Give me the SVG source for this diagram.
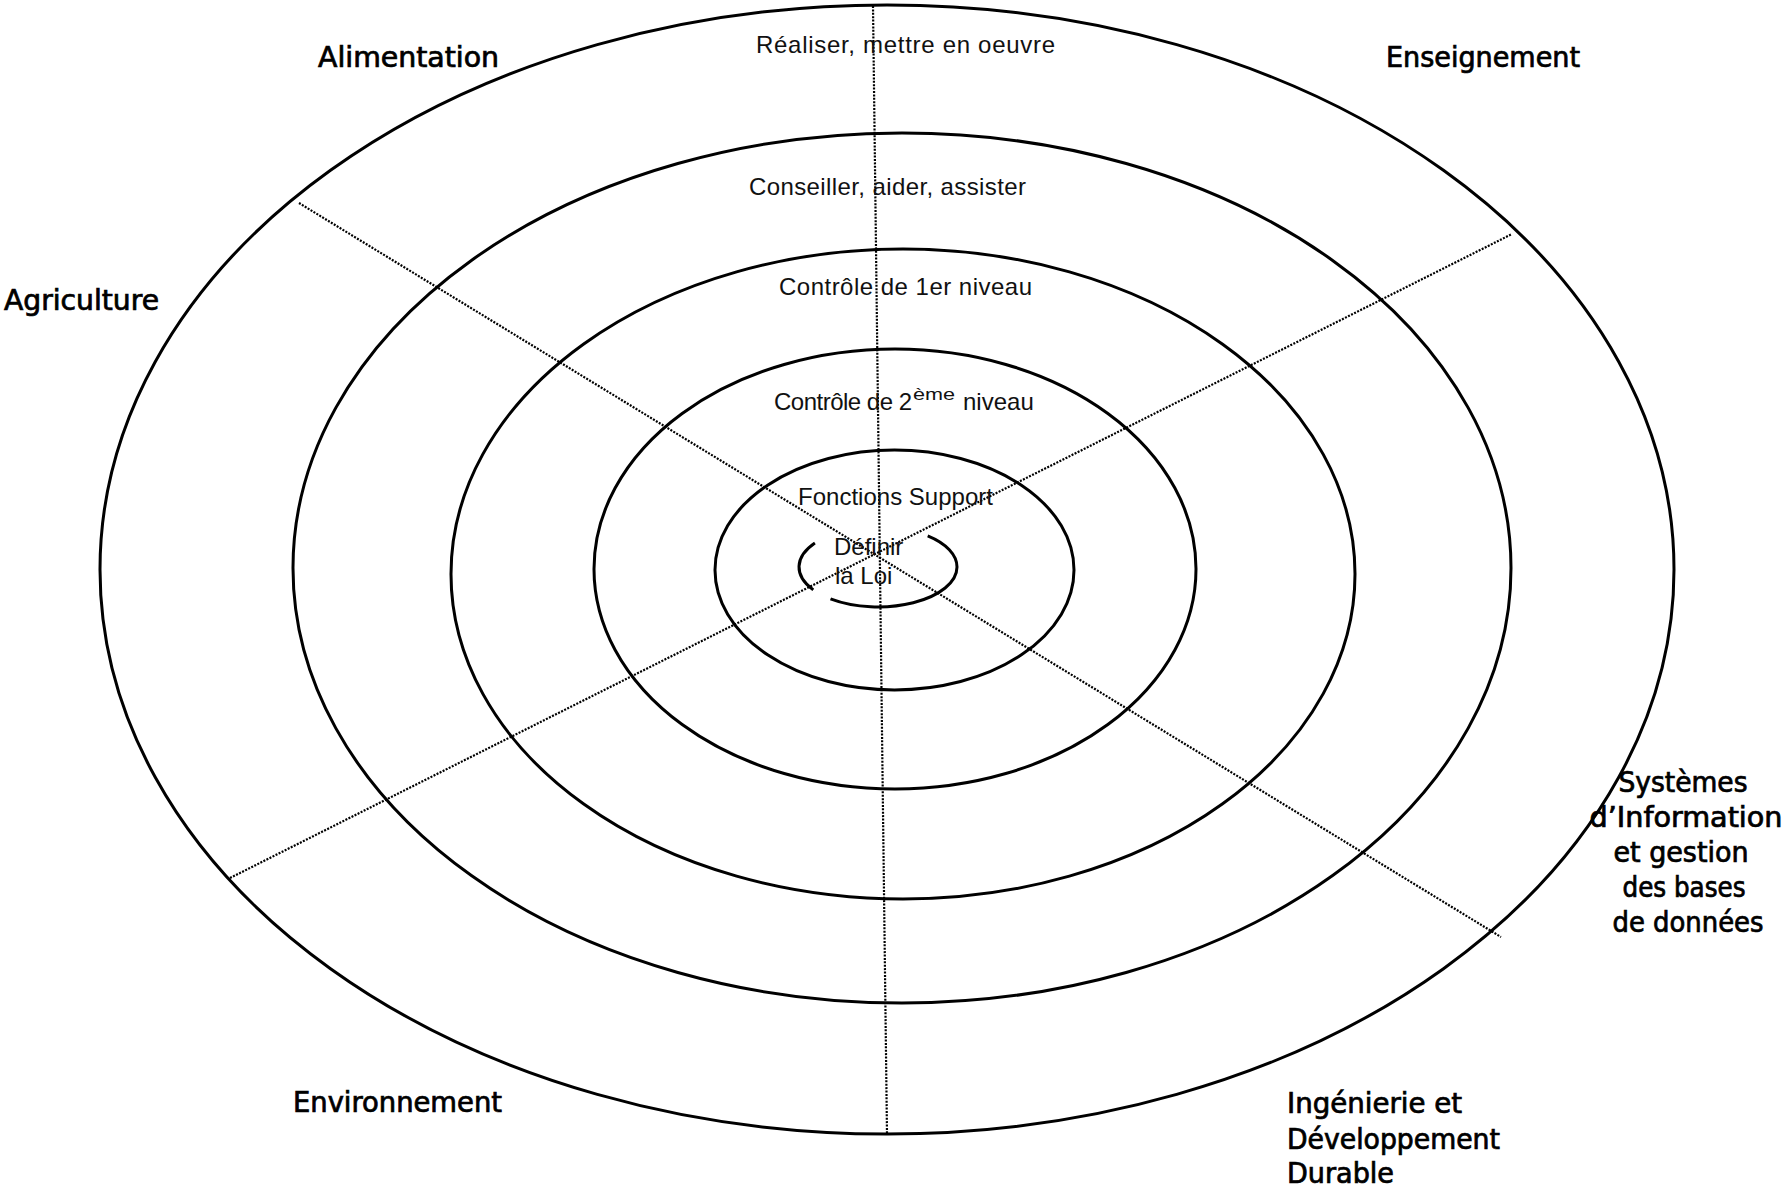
<svg xmlns="http://www.w3.org/2000/svg" width="1787" height="1192" viewBox="0 0 1787 1192">
<style>
.ring{fill:none;stroke:#000;stroke-width:3}
.dot{fill:none;stroke:#000;stroke-width:2.2;stroke-dasharray:2 1.4}
.in{font-family:"Liberation Sans",Arial,sans-serif;font-size:24px;fill:#111}
.out{font-family:"DejaVu Sans Condensed","DejaVu Sans",sans-serif;font-size:28px;fill:#000;stroke:#000;stroke-width:0.7}
</style>
<rect width="1787" height="1192" fill="#fff"/>
<g id="rings">
<ellipse id="ring-realiser" class="ring" cx="887" cy="569.5" rx="787" ry="564.5"/>
<ellipse id="ring-conseiller" class="ring" cx="902" cy="568" rx="609" ry="435"/>
<ellipse id="ring-controle1" class="ring" cx="903" cy="574" rx="452" ry="325"/>
<ellipse id="ring-controle2" class="ring" cx="895" cy="569" rx="301" ry="220"/>
<ellipse id="ring-support" class="ring" cx="894.5" cy="570" rx="179.5" ry="120"/>
<path id="ring-loi" class="ring" d="M814.9,542.9 A79,40 0 0 0 813.3,589.9 M830.5,598.9 A79,40 0 0 0 957,567 A79,40 0 0 0 927.7,535.9"/>
</g>
<g id="connectors">
<line class="dot" x1="873" y1="6" x2="887" y2="1134"/>
<line class="dot" x1="299" y1="203" x2="1501" y2="937"/>
<line class="dot" x1="230" y1="878" x2="1512" y2="234"/>
</g>
<g id="ring-labels">
<text class="in" x="756" y="53" textLength="299" lengthAdjust="spacing">Réaliser, mettre en oeuvre</text>
<text class="in" x="749" y="195" textLength="277" lengthAdjust="spacing">Conseiller, aider, assister</text>
<text class="in" x="779" y="295" textLength="253" lengthAdjust="spacing">Contrôle de 1er niveau</text>
<text class="in" y="410"><tspan x="774" textLength="138" lengthAdjust="spacing">Contrôle de 2</tspan><tspan x="913" y="400" font-size="17" textLength="42" lengthAdjust="spacingAndGlyphs">ème</tspan><tspan x="963" y="410">niveau</tspan></text>
<text class="in" x="798" y="505" textLength="195" lengthAdjust="spacing">Fonctions Support</text>
<text class="in" x="834" y="555">Définir</text>
<text class="in" x="835" y="584">la Loi</text>
</g>
<g id="domain-alimentation"><text class="out" x="318" y="67" textLength="181" lengthAdjust="spacingAndGlyphs">Alimentation</text></g>
<g id="domain-enseignement"><text class="out" x="1386" y="67" textLength="194" lengthAdjust="spacingAndGlyphs">Enseignement</text></g>
<g id="domain-agriculture"><text class="out" x="4" y="310" textLength="155" lengthAdjust="spacingAndGlyphs">Agriculture</text></g>
<g id="domain-environnement"><text class="out" x="293" y="1112" textLength="209" lengthAdjust="spacingAndGlyphs">Environnement</text></g>
<g id="domain-ingenierie">
<text class="out" x="1287" y="1113" textLength="175" lengthAdjust="spacingAndGlyphs">Ingénierie et</text>
<text class="out" x="1287" y="1149" textLength="213" lengthAdjust="spacingAndGlyphs">Développement</text>
<text class="out" x="1287" y="1183" textLength="107" lengthAdjust="spacingAndGlyphs">Durable</text>
</g>
<g id="domain-systemes" text-anchor="middle">
<text class="out" x="1683" y="792" textLength="129" lengthAdjust="spacingAndGlyphs">Systèmes</text>
<text class="out" x="1686" y="827" textLength="193" lengthAdjust="spacingAndGlyphs">d’Information</text>
<text class="out" x="1681" y="862" textLength="135" lengthAdjust="spacingAndGlyphs">et gestion</text>
<text class="out" x="1684" y="897" textLength="123" lengthAdjust="spacingAndGlyphs">des bases</text>
<text class="out" x="1688" y="932" textLength="151" lengthAdjust="spacingAndGlyphs">de données</text>
</g>
</svg>
